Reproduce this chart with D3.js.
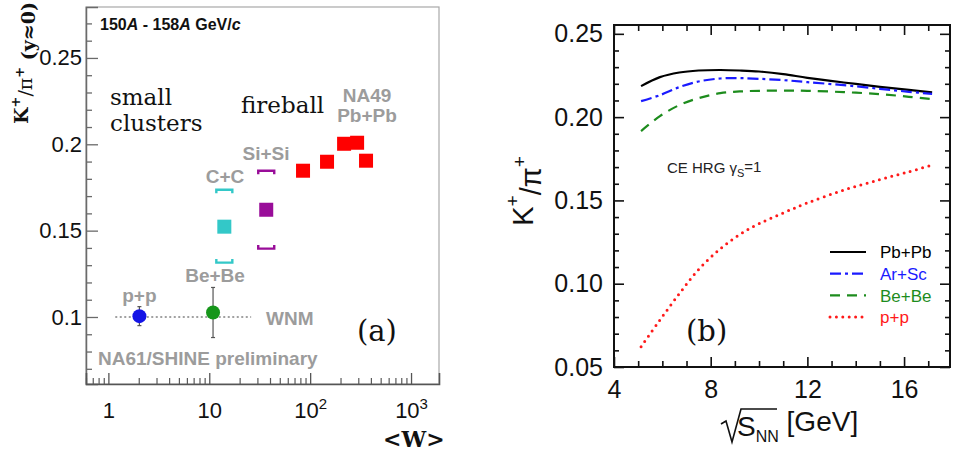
<!DOCTYPE html>
<html>
<head>
<meta charset="utf-8">
<script src="https://cdn.jsdelivr.net/npm/d3@7"></script>
<style>
  body { margin: 0; background: #fff; }
  svg { display: block; }
</style>
</head>
<body>
<div id="vis"></div>
<script>
// ---- panel (a): K+/pi+ at mid-rapidity vs <W>
const circLabel = ['p+p', 'Be+Be'];
const circW = [2.03, 10.9];
const circK = [0.1005, 0.1026];
const circErr = [0.0055, 0.0145];
const circColor = ['#1414e6', '#16961a'];

const sqLabel = ['C+C', 'Si+Si'];
const sqW = [14.1, 36.7];
const sqK = [0.1523, 0.1621];
const sqSysLo = [0.1315, 0.1396];
const sqSysHi = [0.1737, 0.1847];
const sqColor = ['#33c8c8', '#990d99'];

const pbW = [85, 147, 217, 292, 358];
const pbK = [0.1847, 0.1899, 0.2003, 0.2009, 0.1905];

const wnmW = [1.17, 26];
const wnmK = 0.1;

const aYTicks = [0.1, 0.15, 0.2, 0.25];
const aXTicks = [1, 10, 100, 1000];
const aXExp = ['', '', '2', '3'];

// ---- panel (b): CE HRG, gamma_S = 1
const sqrtS = [5.12, 5.9, 6.7, 7.5, 8.4, 9.2, 10.0, 11.0, 12.0, 13.5, 15.0, 16.2, 17.16];
const hrgPbPb = [0.2186, 0.2240, 0.2268, 0.2280, 0.2283, 0.2280, 0.2274, 0.2258, 0.2236, 0.2208, 0.2182, 0.2163, 0.2148];
const hrgArSc = [0.2096, 0.2132, 0.2180, 0.2214, 0.2232, 0.2234, 0.2230, 0.2222, 0.2210, 0.2192, 0.2170, 0.2152, 0.2140];
const hrgBeBe = [0.1916, 0.2006, 0.2072, 0.2114, 0.2144, 0.2154, 0.2158, 0.2159, 0.2158, 0.2150, 0.2138, 0.2122, 0.2108];
const hrgPP   = [0.0622, 0.0782, 0.0940, 0.1085, 0.1210, 0.1295, 0.1360, 0.1425, 0.1485, 0.1562, 0.1625, 0.1672, 0.1712];

const bNames = ['Pb+Pb', 'Ar+Sc', 'Be+Be', 'p+p'];
const bColors = ['#000000', '#1a1aff', '#1d8c1d', '#ff1a1a'];
const bDash = ['none', '11 4 3 4', '10 7', '0 6.4'];
const bYTicks = [0.05, 0.10, 0.15, 0.20, 0.25];
const bXTicks = [4, 8, 12, 16];

const SANS = '"Liberation Sans", Arial, sans-serif';
const SERIF = '"DejaVu Serif", serif';
const GRAY = '#9c9c9c';

const svg = d3.select('#vis').append('svg')
  .attr('width', 953).attr('height', 452);

// =========================== panel (a)
const a = { left: 86, right: 439, top: 7, bottom: 384 };
const xA = d3.scaleLog().domain([0.6, 1893]).range([a.left, a.right]);
const yA = d3.scaleLinear().domain([0.0612, 0.2795]).range([a.bottom, a.top]);

const gA = svg.append('g');

gA.append('rect')
  .attr('x', a.left).attr('y', a.top)
  .attr('width', a.right - a.left).attr('height', a.bottom - a.top)
  .attr('fill', 'none').attr('stroke', '#a8a8a8').attr('stroke-width', 1.2);

// y axis (a)
const aMinorY = d3.range(0.07, 0.275, 0.01).filter(v => !aYTicks.some(t => Math.abs(t - v) < 1e-6));
gA.append('g')
  .attr('transform', `translate(${a.left},0)`)
  .call(d3.axisLeft(yA).tickValues(aMinorY).tickSize(-6).tickFormat(''))
  .call(g => g.select('.domain').remove());
gA.append('g')
  .attr('transform', `translate(${a.left},0)`)
  .call(d3.axisLeft(yA).tickValues(aYTicks).tickSize(-12).tickPadding(4).tickFormat(d3.format('')))
  .call(g => g.select('.domain').attr('stroke', '#6a6a6a').attr('stroke-width', 1.5))
  .call(g => g.selectAll('text').attr('font-family', SANS).attr('font-size', 22).attr('fill', '#111'));
gA.selectAll('.tick line').attr('stroke', '#6a6a6a').attr('stroke-width', 1.3);

// x axis (a), log
const aMinorX = [];
[0.1, 1, 10, 100, 1000].forEach(d => {
  for (let k = 2; k <= 9; k++) {
    const v = d * k;
    if (v > 0.6 && v < 1893) aMinorX.push(v);
  }
});
gA.append('g')
  .attr('transform', `translate(0,${a.bottom})`)
  .call(d3.axisBottom(xA).tickValues(aMinorX).tickSize(-6).tickFormat(''))
  .call(g => g.select('.domain').remove())
  .call(g => g.selectAll('line').attr('stroke', '#5a5a5a').attr('stroke-width', 1.2));
const xAxA = gA.append('g')
  .attr('transform', `translate(0,${a.bottom})`)
  .call(d3.axisBottom(xA).tickValues(aXTicks).tickSize(-11).tickPadding(18).tickFormat(d => ''))
  .call(g => g.select('.domain').attr('stroke', '#555').attr('stroke-width', 1.6))
  .call(g => g.selectAll('line').attr('stroke', '#555').attr('stroke-width', 1.3));
xAxA.selectAll('.tick text').each(function (d, i) {
  const t = d3.select(this)
    .attr('font-family', SANS).attr('font-size', 22).attr('fill', '#111');
  t.append('tspan').text(aXExp[i] ? '10' : String(d));
  if (aXExp[i]) {
    t.append('tspan').attr('font-size', 15).attr('dy', '-0.55em').text(aXExp[i]);
  }
});

// WNM dotted line
gA.append('line')
  .attr('x1', xA(wnmW[0])).attr('x2', xA(wnmW[1]))
  .attr('y1', yA(wnmK)).attr('y2', yA(wnmK))
  .attr('stroke', '#444').attr('stroke-width', 1.1).attr('stroke-dasharray', '2 2.5');

// error bars + circles (NA61)
circW.forEach((w, i) => {
  const cx = xA(w);
  const y1 = yA(circK[i] - circErr[i]);
  const y2 = yA(circK[i] + circErr[i]);
  gA.append('line').attr('x1', cx).attr('x2', cx).attr('y1', y1).attr('y2', y2)
    .attr('stroke', '#555').attr('stroke-width', 1.2);
  [y1, y2].forEach(yy => gA.append('line')
    .attr('x1', cx - 2).attr('x2', cx + 2).attr('y1', yy).attr('y2', yy)
    .attr('stroke', '#555').attr('stroke-width', 1.2));
});
gA.selectAll('circle.na61')
  .data(circW)
  .join('circle')
  .attr('class', 'na61')
  .attr('cx', d => xA(d))
  .attr('cy', (d, i) => yA(circK[i]))
  .attr('r', 7)
  .attr('fill', (d, i) => circColor[i]);

// C+C, Si+Si squares with systematic brackets
const sq = 14;
sqW.forEach((w, i) => {
  const cx = xA(w);
  const hw = 8, leg = 3.5;
  const yt = yA(sqSysHi[i]);
  const yb = yA(sqSysLo[i]);
  gA.append('path')
    .attr('d', `M${cx - hw},${yt + leg}V${yt}H${cx + hw}V${yt + leg}`)
    .attr('fill', 'none').attr('stroke', sqColor[i]).attr('stroke-width', 2.4);
  gA.append('path')
    .attr('d', `M${cx - hw},${yb - leg}V${yb}H${cx + hw}V${yb - leg}`)
    .attr('fill', 'none').attr('stroke', sqColor[i]).attr('stroke-width', 2.4);
  gA.append('rect')
    .attr('x', cx - sq / 2).attr('y', yA(sqK[i]) - sq / 2)
    .attr('width', sq).attr('height', sq)
    .attr('fill', sqColor[i]);
});

// NA49 Pb+Pb
gA.selectAll('rect.pb')
  .data(pbW)
  .join('rect')
  .attr('class', 'pb')
  .attr('x', d => xA(d) - sq / 2)
  .attr('y', (d, i) => yA(pbK[i]) - sq / 2)
  .attr('width', sq).attr('height', sq)
  .attr('fill', '#ff0000');

// labels (a)
function grayLabel(txt, x, y, anchor) {
  gA.append('text')
    .attr('x', x).attr('y', y)
    .attr('text-anchor', anchor || 'middle')
    .attr('font-family', SANS).attr('font-weight', 'bold')
    .attr('font-size', 19).attr('fill', GRAY)
    .text(txt);
}
grayLabel(circLabel[0], xA(circW[0]), 302);
grayLabel(circLabel[1], 215, 282);
grayLabel(sqLabel[0], 225, 183);
grayLabel(sqLabel[1], 266, 160);
grayLabel('NA49', 367, 102);
grayLabel('Pb+Pb', 367, 122);
grayLabel('WNM', 266, 325, 'start');
grayLabel('NA61/SHINE preliminary', 98, 365, 'start');

const title = gA.append('text')
  .attr('x', 100).attr('y', 30)
  .attr('font-family', SANS).attr('font-weight', 'bold')
  .attr('font-size', 16).attr('fill', '#111');
title.append('tspan').text('150');
title.append('tspan').attr('font-style', 'italic').text('A');
title.append('tspan').text(' - 158');
title.append('tspan').attr('font-style', 'italic').text('A');
title.append('tspan').text(' GeV/');
title.append('tspan').attr('font-style', 'italic').text('c');

function serifText(g, txt, x, y, size, weight) {
  return g.append('text')
    .attr('x', x).attr('y', y)
    .attr('font-family', SERIF).attr('font-size', size)
    .attr('font-weight', weight || 'normal').attr('fill', '#111')
    .text(txt);
}
serifText(gA, 'small', 110, 105, 23);
serifText(gA, 'clusters', 110, 131, 23);
serifText(gA, 'fireball', 241, 113, 23);
serifText(gA, '(a)', 357, 341, 29);
serifText(gA, '<W>', 383, 447, 22, 'bold');

const yLabA = gA.append('text')
  .attr('transform', 'translate(28,63) rotate(-90)')
  .attr('text-anchor', 'middle')
  .attr('font-family', SERIF).attr('font-weight', 'bold')
  .attr('font-size', 19).attr('fill', '#111');
yLabA.append('tspan').text('K');
yLabA.append('tspan').attr('font-size', 13).attr('dy', '-0.6em').text('+');
yLabA.append('tspan').attr('dy', '0.6em').attr('font-weight', 'normal').text('/π');
yLabA.append('tspan').attr('font-size', 13).attr('dy', '-0.6em').text('+');
yLabA.append('tspan').attr('dy', '0.6em').text(' (y≈0)');

// =========================== panel (b)
const b = { left: 614, right: 950, top: 25, bottom: 367 };
const xB = d3.scaleLinear().domain([4, 17.9]).range([b.left, b.right]);
const yB = d3.scaleLinear().domain([0.05, 0.2553]).range([b.bottom, b.top]);

const gB = svg.append('g');

const bMinorX = d3.range(5, 18, 1).filter(v => !bXTicks.includes(v));
const bMinorY = d3.range(0.06, 0.256, 0.01).filter(v => !bYTicks.some(t => Math.abs(t - v) < 1e-6));

function bAxis(axisFn, scale, values, size, fmt, tr, pad) {
  const g = gB.append('g')
    .attr('transform', tr)
    .call(axisFn(scale).tickValues(values).tickSize(size).tickPadding(pad || 3).tickFormat(fmt || ''));
  g.select('.domain').remove();
  g.selectAll('line').attr('stroke', '#111').attr('stroke-width', 1.6);
  g.selectAll('text').attr('font-family', SANS).attr('font-size', 25).attr('fill', '#111');
  return g;
}
bAxis(d3.axisLeft, yB, bMinorY, -5, '', `translate(${b.left},0)`);
bAxis(d3.axisLeft, yB, bYTicks, -10, d3.format('.2f'), `translate(${b.left},0)`, 11);
bAxis(d3.axisRight, yB, bMinorY, -5, '', `translate(${b.right},0)`);
bAxis(d3.axisRight, yB, bYTicks, -10, '', `translate(${b.right},0)`);
bAxis(d3.axisBottom, xB, bMinorX, -6, '', `translate(0,${b.bottom})`);
bAxis(d3.axisBottom, xB, bXTicks, -10, d3.format('d'), `translate(0,${b.bottom})`, 13);
bAxis(d3.axisTop, xB, bMinorX, -6, '', `translate(0,${b.top})`);
bAxis(d3.axisTop, xB, bXTicks, -10, '', `translate(0,${b.top})`);

gB.append('rect')
  .attr('x', b.left).attr('y', b.top)
  .attr('width', b.right - b.left).attr('height', b.bottom - b.top)
  .attr('fill', 'none').attr('stroke', '#111').attr('stroke-width', 2);

// curves
const bSeries = [hrgPbPb, hrgArSc, hrgBeBe, hrgPP];
const line = d3.line()
  .x((d, i) => xB(sqrtS[i]))
  .y(d => yB(d))
  .curve(d3.curveCatmullRom.alpha(0.5));
gB.selectAll('path.hrg')
  .data(bSeries)
  .join('path')
  .attr('class', 'hrg')
  .attr('d', line)
  .attr('fill', 'none')
  .attr('stroke', (d, i) => bColors[i])
  .attr('stroke-width', (d, i) => i === 3 ? 3 : 2.2)
  .attr('stroke-linecap', (d, i) => i === 3 ? 'round' : 'butt')
  .attr('stroke-dasharray', (d, i) => bDash[i]);

// legend
const leg = gB.selectAll('g.leg')
  .data(bNames)
  .join('g')
  .attr('class', 'leg')
  .attr('transform', (d, i) => `translate(830,${252 + i * 21.7})`);
leg.append('line')
  .attr('x1', 0).attr('x2', 36)
  .attr('stroke', (d, i) => bColors[i])
  .attr('stroke-width', (d, i) => i === 3 ? 3 : 2.2)
  .attr('stroke-linecap', (d, i) => i === 3 ? 'round' : 'butt')
  .attr('stroke-dasharray', (d, i) => bDash[i]);
leg.append('text')
  .attr('x', 50).attr('dy', '0.36em')
  .attr('font-family', SANS).attr('font-size', 17)
  .attr('fill', (d, i) => bColors[i])
  .text(d => d);

// CE HRG note
const note = gB.append('text')
  .attr('x', 667).attr('y', 173)
  .attr('font-family', SANS).attr('font-size', 15).attr('fill', '#222');
note.append('tspan').text('CE HRG  γ');
note.append('tspan').attr('font-size', 11).attr('dy', '0.35em').text('S');
note.append('tspan').attr('dy', '-0.35em').text('=1');

serifText(gB, '(b)', 686, 341, 29);

// y label (b)
const yLabB = gB.append('text')
  .attr('transform', 'translate(533,191) rotate(-90)')
  .attr('text-anchor', 'middle')
  .attr('font-family', SANS).attr('font-size', 29).attr('fill', '#111');
yLabB.append('tspan').text('K');
yLabB.append('tspan').attr('font-size', 19).attr('dy', '-0.75em').text('+');
yLabB.append('tspan').attr('dy', '0.75em').text('/π');
yLabB.append('tspan').attr('font-size', 19).attr('dy', '-0.75em').text('+');

// x label (b): sqrt(S_NN) [GeV]
gB.append('path')
  .attr('d', 'M721,424 L726,421 L732,442 L741,409 L777,409')
  .attr('fill', 'none').attr('stroke', '#111').attr('stroke-width', 1.6);
const xLabB = gB.append('text')
  .attr('x', 737).attr('y', 436)
  .attr('font-family', SANS).attr('font-size', 28).attr('fill', '#111');
xLabB.append('tspan').text('S');
xLabB.append('tspan').attr('font-size', 16).attr('dy', '0.4em').text('NN');
xLabB.append('tspan').attr('dy', '-0.4em').text(' [GeV]');
</script>
</body>
</html>
